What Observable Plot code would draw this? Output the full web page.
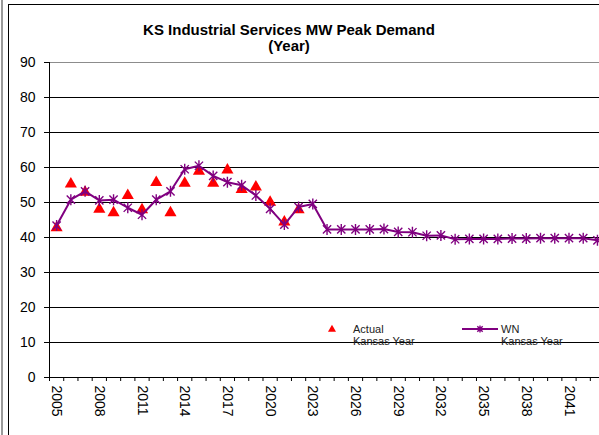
<!DOCTYPE html>
<html>
<head>
<meta charset="utf-8">
<script src="https://cdn.jsdelivr.net/npm/d3@7"></script>
<script src="https://cdn.jsdelivr.net/npm/@observablehq/plot@0.6"></script>
<style>
  html, body { margin: 0; padding: 0; background: #fff; }
  #chart { position: relative; width: 599px; height: 435px; overflow: hidden; background: #fff; font-family: "Liberation Sans", Arial, sans-serif; }
  #chart > svg.plot { max-width: none !important; height: 435px !important; }
  .gray-edge { position: absolute; left: 1px; top: 0; width: 2px; height: 435px; background: #9a9a9a; }
  .frame-edge { position: absolute; left: 8px; top: 4px; width: 700px; height: 500px; border-left: 1px solid #000; border-top: 1px solid #000; }
  .title { position: absolute; left: 69px; width: 440px; text-align: center; font-weight: bold; font-size: 15px; line-height: 16px; color: #000; white-space: nowrap; }
  .legend-text { position: absolute; font-size: 11px; line-height: 13px; color: #222; white-space: nowrap; }
  .legend-sym { position: absolute; overflow: visible; }
</style>
</head>
<body>
<div id="chart">
  <div class="gray-edge"></div>
  <div class="frame-edge"></div>
</div>
<script>
// ---- data ----
const actualYears = [2005,2006,2007,2008,2009,2010,2011,2012,2013,2014,2015,2016,2017,2018,2019,2020,2021,2022];
const actualValues = [42.8,55.3,52.9,48.1,47.1,52.0,47.9,55.7,47.1,55.5,58.9,55.5,59.3,53.7,54.4,50.1,44.4,47.9];
const wnYears = [2005,2006,2007,2008,2009,2010,2011,2012,2013,2014,2015,2016,2017,2018,2019,2020,2021,2022,2023,2024,2025,2026,2027,2028,2029,2030,2031,2032,2033,2034,2035,2036,2037,2038,2039,2040,2041,2042,2043];
const wnValues = [43.4,50.8,53.2,50.6,50.8,48.5,46.5,50.8,53.2,59.5,60.5,57.6,55.8,54.9,52.0,48.2,43.7,48.7,49.6,42.3,42.3,42.3,42.3,42.4,41.6,41.5,40.5,40.6,39.5,39.6,39.6,39.6,39.7,39.7,39.8,39.8,39.8,39.8,39.2];
const axisYears = [2005,2006,2007,2008,2009,2010,2011,2012,2013,2014,2015,2016,2017,2018,2019,2020,2021,2022,2023,2024,2025,2026,2027,2028,2029,2030,2031,2032,2033,2034,2035,2036,2037,2038,2039,2040,2041,2042,2043,2044,2045,2046,2047];
const xTickLabels = [2005,2008,2011,2014,2017,2020,2023,2026,2029,2032,2035,2038,2041];
const yTicks = [0,10,20,30,40,50,60,70,80,90];
const titleLines = ["KS Industrial Services MW Peak Demand", "(Year)"];
const seriesNames = [["Actual", "Kansas Year"], ["WN", "Kansas Year"]];
const colors = {actual: "#ff0000", wn: "#800080"};

const actual = actualYears.map((y, i) => ({year: y, value: actualValues[i]}));
const wn = wnYears.map((y, i) => ({year: y, value: wnValues[i]}));
const boundaries = axisYears.map(y => y - 0.5).concat([axisYears[axisYears.length - 1] + 0.5]);

// Excel-like star marker: an X plus a vertical bar
const star = {
  draw(context, size) {
    const r = Math.sqrt(size / Math.PI);
    const d = r * 0.75;
    context.moveTo(-d, -d); context.lineTo(d, d);
    context.moveTo(d, -d); context.lineTo(-d, d);
    context.moveTo(0, -r); context.lineTo(0, r);
  }
};

const svg = Plot.plot({
  width: 661,
  height: 435,
  marginLeft: 49,
  marginRight: 0,
  marginTop: 62,
  marginBottom: 58,
  style: {position: "absolute", left: "0px", top: "0px", maxWidth: "none", background: "transparent", fontFamily: "'Liberation Sans', Arial, sans-serif", fontSize: "14px", color: "#000", overflow: "visible"},
  x: {type: "linear", domain: [boundaries[0], boundaries[boundaries.length - 1]]},
  y: {domain: [0, 90]},
  marks: [
    Plot.gridY(yTicks.filter(t => t > 0 && t < 90), {stroke: "#000", strokeOpacity: 1, strokeWidth: 1}),
    Plot.gridY([90], {stroke: "#8c8c8c", strokeOpacity: 1, strokeWidth: 1}),
    Plot.axisY(yTicks, {tickSize: 5, tickPadding: 9, tickFormat: d => String(d), label: null, stroke: "#000", fontSize: 14}),
    Plot.axisX(boundaries, {tickSize: 4, tickFormat: () => "", label: null, stroke: "#000"}),
    Plot.axisX(xTickLabels, {tickSize: 0, tickPadding: 8, tickRotate: 90, tickFormat: d => String(d), label: null, fontSize: 14}),
    Plot.frame({anchor: "left", stroke: "#000"}),
    Plot.ruleY([0], {stroke: "#000"}),
    Plot.dot(actual, {x: "year", y: "value", symbol: "triangle", r: 4.5, fill: colors.actual, stroke: "none"}),
    Plot.line(wn, {x: "year", y: "value", stroke: colors.wn, strokeWidth: 2}),
    Plot.dot(wn, {x: "year", y: "value", symbol: star, r: 5.5, stroke: colors.wn, strokeWidth: 1.4, fill: "none"})
  ]
});

const chart = document.getElementById("chart");
chart.appendChild(svg);

// Title
titleLines.forEach((t, i) => {
  const d = document.createElement("div");
  d.className = "title";
  d.style.top = (22 + i * 16) + "px";
  d.textContent = t;
  chart.appendChild(d);
});

// Legend
function addText(lines, left, top) {
  lines.forEach((t, i) => {
    const d = document.createElement("div");
    d.className = "legend-text";
    d.style.left = left + "px";
    d.style.top = (top + i * 12) + "px";
    d.textContent = t;
    chart.appendChild(d);
  });
}
const ns = "http://www.w3.org/2000/svg";
function legendSvg(left, top, w, h) {
  const s = document.createElementNS(ns, "svg");
  s.setAttribute("class", "legend-sym");
  s.setAttribute("width", w); s.setAttribute("height", h);
  s.style.left = left + "px"; s.style.top = top + "px";
  chart.appendChild(s);
  return s;
}
// Actual
{
  const s = legendSvg(326, 323, 12, 12);
  const p = document.createElementNS(ns, "path");
  p.setAttribute("d", d3.symbol(d3.symbolTriangle, 28)());
  p.setAttribute("transform", "translate(6,6.5)");
  p.setAttribute("fill", colors.actual);
  s.appendChild(p);
  addText(seriesNames[0], 353, 323);
}
// WN
{
  const s = legendSvg(462, 323, 38, 12);
  const l = document.createElementNS(ns, "line");
  l.setAttribute("x1", 0); l.setAttribute("x2", 36); l.setAttribute("y1", 6); l.setAttribute("y2", 6);
  l.setAttribute("stroke", colors.wn); l.setAttribute("stroke-width", 2);
  s.appendChild(l);
  const p = document.createElementNS(ns, "path");
  p.setAttribute("d", d3.symbol(star, 40)());
  p.setAttribute("transform", "translate(18,6)");
  p.setAttribute("stroke", colors.wn); p.setAttribute("stroke-width", 1.4); p.setAttribute("fill", "none");
  s.appendChild(p);
  addText(seriesNames[1], 501, 323);
}
</script>
</body>
</html>
